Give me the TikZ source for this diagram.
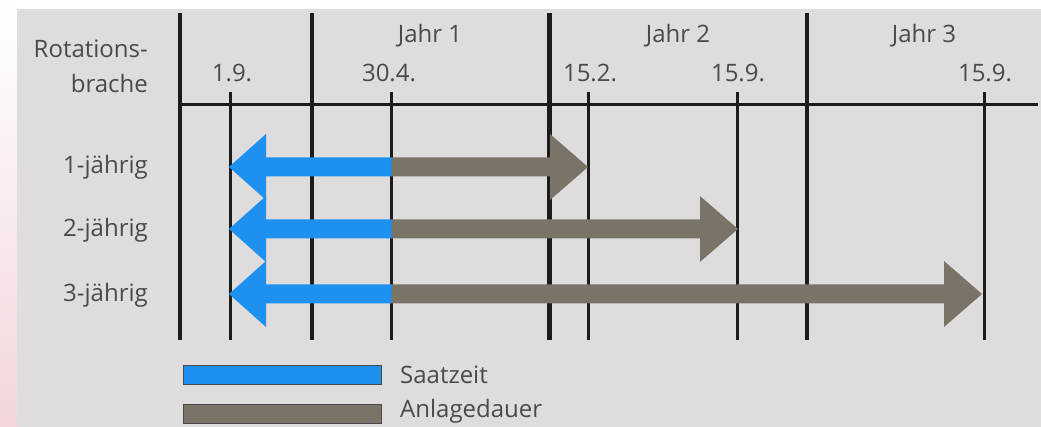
\documentclass[tikz,border=0pt]{standalone}
\usepackage{fontspec}
\setmainfont{Open Sans}
\usetikzlibrary{calc}
\definecolor{panel}{HTML}{DEDCDD}
\definecolor{sowblue}{HTML}{1E90F0}
\definecolor{standgray}{HTML}{7A7367}
\definecolor{ink}{HTML}{1C1C1C}
\definecolor{txt}{HTML}{4A4A4A}
\definecolor{rose}{HTML}{F2D6D9}
\tikzset{
  lbl/.style={font=\fontsize{24}{28}\selectfont, text=txt, inner sep=0pt, anchor=base},
  thickline/.style={draw=ink, line width=4pt},
  tickline/.style={draw=ink, line width=3pt},
  sowbar/.style={fill=sowblue, draw=none},
  standbar/.style={fill=standgray, draw=none},
}
% double bar: sowing window (blue, to 1.9.) and stand duration (grey)
% #1 = row centre, #2 = head base, #3 = tip
\newcommand\rotbar[3]{%
  \path[standbar] (391,{#1-9.5}) -- (#2,{#1-9.5}) -- (#2,{#1-33}) -- (#3,#1)
     -- (#2,{#1+33}) -- (#2,{#1+9.5}) -- (391,{#1+9.5}) -- cycle;
  \path[sowbar] (229,#1) -- (266,{#1-33}) -- (266,{#1-9.5}) -- (391.5,{#1-9.5})
     -- (391.5,{#1+9.5}) -- (266,{#1+9.5}) -- (266,{#1+33}) -- cycle;
}
\begin{document}
\begin{tikzpicture}[x=1pt, y=-1pt]
\useasboundingbox (0,0) rectangle (1041,427);
% backdrop
\fill[white] (0,0) rectangle (1041,427);
\shade[top color=white, bottom color=rose] (0,0) rectangle (17,427);
\fill[panel] (17,9) rectangle (1041,427);

% time axis: year dividers and date ticks
\foreach \x in {180, 312, 807}
  \draw[thickline] (\x,13) -- (\x,340);
\draw[thickline, line width=5pt] (549,13) -- (549,340);
\foreach \x in {230, 391, 588, 737, 984}
  \draw[tickline] (\x,92) -- (\x,340);
\draw[tickline] (180,105) -- (1038,105);

% header texts
\node[lbl, anchor=base east] (rot1) at (148,58) {Rotations-};
\node[lbl, anchor=base east] (rot2) at (148,93) {brache};
\node[lbl] (j1) at (430,43) {Jahr 1};
\node[lbl] (j2) at (678,43) {Jahr 2};
\node[lbl] (j3) at (924,43) {Jahr 3};
\node[lbl] (t1) at (232,82) {1.9.};
\node[lbl] (t2) at (389,82) {30.4.};
\node[lbl] (t3) at (590,82) {15.2.};
\node[lbl] (t4) at (738,82) {15.9.};
\node[lbl] (t5) at (985,82) {15.9.};

% rows
\node[lbl, anchor=base east] (r1) at (148,174) {1-jährig};
\node[lbl, anchor=base east] (r2) at (148,237) {2-jährig};
\node[lbl, anchor=base east] (r3) at (148,302) {3-jährig};
\rotbar{167}{550}{588}
\rotbar{229}{700}{738}
\rotbar{294}{944}{982}

% legend
\draw[sowbar, draw=ink!80, line width=0.8pt] (183,365) rectangle (381,384);
\draw[standbar, draw=ink!80, line width=0.8pt] (183,404) rectangle (381,423);
\node[lbl, anchor=base west] (lg1) at (400,384) {Saatzeit};
\node[lbl, anchor=base west] (lg2) at (400,417) {Anlagedauer};
\end{tikzpicture}
\end{document}
